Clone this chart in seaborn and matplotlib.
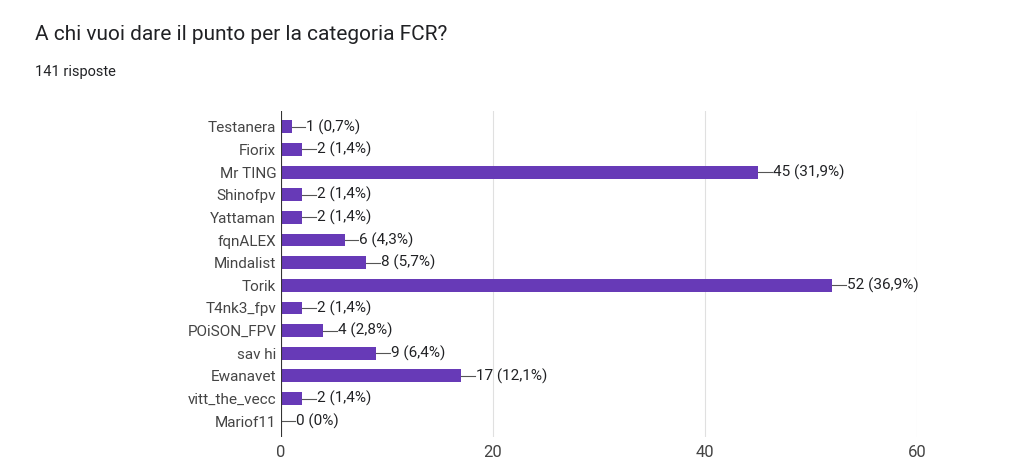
import matplotlib
matplotlib.use("Agg")
import matplotlib.pyplot as plt
import seaborn as sns
import pandas as pd

names = ["Testanera", "Fiorix", "Mr TING", "Shinofpv", "Yattaman", "fqnALEX", "Mindalist",
         "Torik", "T4nk3_fpv", "POiSON_FPV", "sav hi", "Ewanavet", "vitt_the_vecc", "Mariof11"]
votes = [1, 2, 45, 2, 2, 6, 8, 52, 2, 4, 9, 17, 2, 0]
labels = ["1 (0,7%)", "2 (1,4%)", "45 (31,9%)", "2 (1,4%)", "2 (1,4%)", "6 (4,3%)", "8 (5,7%)",
          "52 (36,9%)", "2 (1,4%)", "4 (2,8%)", "9 (6,4%)", "17 (12,1%)", "2 (1,4%)", "0 (0%)"]
ticks = [0, 20, 40, 60]

plt.rcParams["font.family"] = "Roboto"
df = pd.DataFrame({"name": names, "votes": votes})

fig = plt.figure(figsize=(10.24, 4.66), dpi=100)
fig.text(35/1024, 1-35/466, "A chi vuoi dare il punto per la categoria FCR?", fontsize=15,
         va="center", color="#202124")
fig.text(35/1024, 1-72/466, "141 risposte", fontsize=10.5, va="center", color="#202124")
ax = fig.add_axes([281/1024, 1-437/466, (917-281)/1024, (437-111)/466])

sns.barplot(data=df, x="votes", y="name", color="#673ab7", saturation=1, width=0.57, ax=ax)
for i, (v, lab) in enumerate(zip(votes, labels)):
    ax.plot([v, v + 1.3], [i, i], color="#555555", lw=0.8)
    ax.text(v + 1.4, i, lab, va="center", ha="left", fontsize=11, color="#202124")

ax.set_xlim(0, 60)
ax.set_ylim(13.7, -0.7)
ax.set_xticks(ticks)
ax.grid(axis="x", color="#e0e0e0", lw=0.8)
ax.set_axisbelow(True)
for s in ax.spines.values():
    s.set_visible(False)
ax.axvline(0, color="#333333", lw=0.8)
ax.tick_params(length=0, labelsize=11, colors="#444444")
ax.tick_params(axis="x", labelsize=12, pad=6)
ax.set_xlabel("")
ax.set_ylabel("")
fig.savefig("out.png", dpi=100, facecolor="white")
